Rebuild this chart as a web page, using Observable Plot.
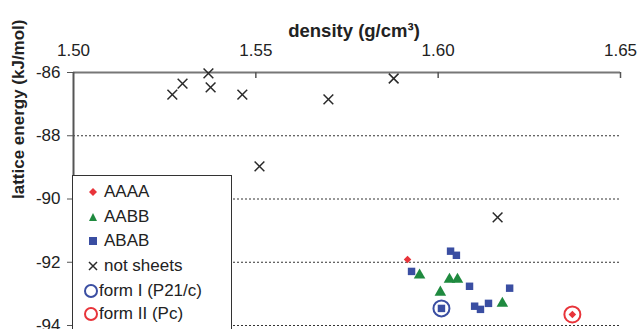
<!DOCTYPE html>
<html><head><meta charset="utf-8">
<script src="https://cdn.jsdelivr.net/npm/d3@7"></script>
<script src="https://cdn.jsdelivr.net/npm/@observablehq/plot@0.6"></script>
<style>
body{margin:0;background:#fff;font-family:"Liberation Sans",Arial,sans-serif;}
#wrap{position:relative;width:639px;height:329px;overflow:hidden;}
#legend{position:absolute;left:72px;top:175px;width:160px;height:170px;background:#fff;border:1.5px solid #333;box-sizing:border-box;}
.row{position:absolute;left:0;height:24px;display:flex;align-items:center;font-size:17px;color:#222;white-space:nowrap;}
.row svg{display:block}
</style></head><body><div id="wrap"></div>
<script>
const xTicks = [1.50, 1.55, 1.60, 1.65];
const yTicks = [-86, -88, -90, -92, -94];
const gridY = [-88, -90, -92, -94];

const aaaaDensity = [1.5916, 1.6368];
const aaaaEnergy  = [-91.91, -93.65];

const aabbDensity = [1.5949, 1.6031, 1.6053, 1.6006, 1.6176];
const aabbEnergy  = [-92.41, -92.54, -92.54, -92.95, -93.30];

const ababDensity = [1.6034, 1.6050, 1.5927, 1.6086, 1.6196, 1.6009, 1.6100, 1.6116, 1.6138];
const ababEnergy  = [-91.65, -91.78, -92.29, -92.76, -92.82, -93.46, -93.39, -93.49, -93.30];

const notDensity = [1.5271, 1.5299, 1.5370, 1.5376, 1.5463, 1.5699, 1.5878, 1.5510, 1.6163];
const notEnergy  = [-86.70, -86.35, -86.03, -86.47, -86.70, -86.85, -86.19, -88.97, -90.58];

const formIDensity = [1.6009];  const formIEnergy = [-93.46];
const formIIDensity = [1.6368]; const formIIEnergy = [-93.65];

const legendLabels = ["AAAA", "AABB", "ABAB", "not sheets", "form I (P21/c)", "form II (Pc)"];

const RED = "#e8343a", GREEN = "#1f8a3f", BLUE = "#3a4ea2", DARK = "#2a2a2a";

const pts = (xs, ys) => xs.map((x, i) => ({x, y: ys[i]}));

const W = 639, H = 329, mT = 72, mB = 4, mL = 73, mR = 19;
const frameH = H - mT - mB;

const chart = Plot.plot({
  width: W, height: H,
  marginTop: mT, marginBottom: mB, marginLeft: mL, marginRight: mR,
  style: {fontFamily: "Liberation Sans, Arial, sans-serif", background: "#fff", overflow: "visible"},
  x: {domain: [1.50, 1.65]},
  y: {domain: [-94, -86]},
  marks: [
    Plot.ruleY(gridY, {stroke: "#333", strokeDasharray: "2,2", strokeWidth: 1}),
    Plot.ruleY([-86], {stroke: "#777", strokeWidth: 2}),
    Plot.ruleX([1.50], {stroke: "#555", strokeWidth: 2}),
    Plot.tickX(xTicks.slice(1), {x: d => d, stroke: "#555", strokeWidth: 1.5, insetBottom: frameH - 6}),
    Plot.axisX({anchor: "top", label: null, ticks: xTicks, tickFormat: d => d.toFixed(2), tickSize: 0, tickPadding: 17, fontSize: 17, fill: "#222"}),
    Plot.axisY({anchor: "left", label: null, ticks: yTicks, tickFormat: d => String(d), tickSize: 6, tickPadding: 7, fontSize: 17, fill: "#222", stroke: "#555"}),
    Plot.dot(pts(notDensity, notEnergy), {x: "x", y: "y", symbol: "times", r: 4.5, stroke: DARK, strokeWidth: 1.5}),
    Plot.dot(pts(aabbDensity, aabbEnergy), {x: "x", y: "y", symbol: "triangle", r: 4.3, fill: GREEN}),
    Plot.dot(pts(ababDensity, ababEnergy), {x: "x", y: "y", symbol: "square", r: 4.2, fill: BLUE}),
    Plot.dot(pts(aaaaDensity, aaaaEnergy), {x: "x", y: "y", symbol: "diamond2", r: 3.4, fill: RED}),
    Plot.dot(pts(formIDensity, formIEnergy), {x: "x", y: "y", r: 8, stroke: BLUE, strokeWidth: 2, fill: "none"}),
    Plot.dot(pts(formIIDensity, formIIEnergy), {x: "x", y: "y", r: 8, stroke: RED, strokeWidth: 2, fill: "none"}),
    Plot.text(["density (g/cm³)"], {frameAnchor: "top", dx: 7, dy: -49, fontSize: 18.5, fontWeight: "bold", fill: "#222"}),
    Plot.text(["lattice energy (kJ/mol)"], {frameAnchor: "left", dx: -55, rotate: -90, fontSize: 17, fontWeight: "bold", fill: "#222"})
  ]
});

const wrap = document.getElementById("wrap");
wrap.appendChild(chart);

// legend
const legend = document.createElement("div");
legend.id = "legend";
const symbols = [
  `<path d="M7,3 L11,7 L7,11 L3,7 Z" fill="${RED}"/>`,
  `<path d="M7,3 L11,11 L3,11 Z" fill="${GREEN}"/>`,
  `<rect x="3" y="3" width="8" height="8" fill="${BLUE}"/>`,
  `<path d="M3,3 L11,11 M11,3 L3,11" stroke="${DARK}" stroke-width="1.5"/>`,
  `<circle cx="7" cy="7" r="6" stroke="${BLUE}" stroke-width="2" fill="none"/>`,
  `<circle cx="7" cy="7" r="6" stroke="${RED}" stroke-width="2" fill="none"/>`
];
const rowTops = [4, 29, 53, 78, 103, 126];
legendLabels.forEach((lab, i) => {
  const r = document.createElement("div");
  r.className = "row";
  r.style.top = rowTops[i] + "px";
  r.style.left = (i >= 4 ? 11 : 13) + "px";
  const gap = i >= 4 ? 1 : 4;
  r.innerHTML = `<svg width="14" height="14" style="margin-right:${gap}px">${symbols[i]}</svg><span>${lab}</span>`;
  legend.appendChild(r);
});
wrap.appendChild(legend);
</script>
</body></html>
